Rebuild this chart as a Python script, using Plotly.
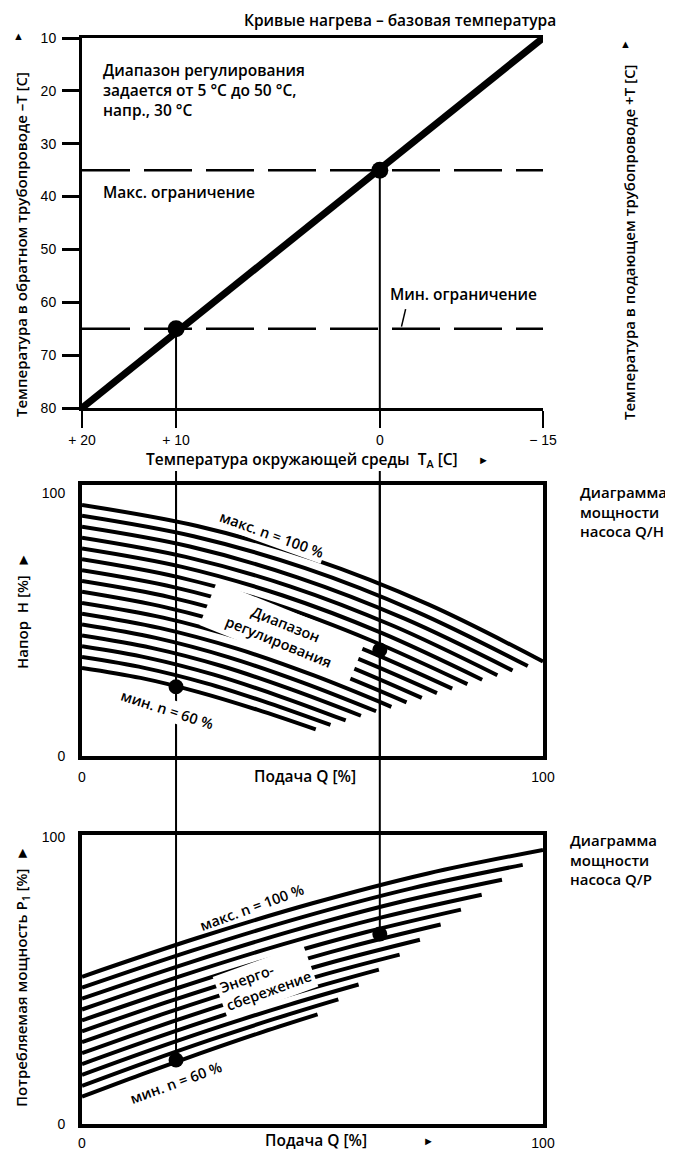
import plotly.graph_objects as go

# the page puts the plot 8 px in from the window corner
OFF = 8
W, H = 673 - OFF, 1151 - OFF

# ---------------- top panel: heating curve ----------------
ta_ticktext = ["+ 20", "+ 10", "0", "\u2212 15"]
ta_tickpos = [0, 20.4, 64.6, 100]      # ambient temperatures sit on the common Q scale
heat_q = [0, 100]
heat_ret = [80, 10]                    # return temperature -T at +20 and -15
ret_ticks = [10, 20, 30, 40, 50, 60, 70, 80]
sup_ticks = [20, 30, 40, 50, 60, 70, 80, 90]
limit_max = 35                         # return side (supply 65)
limit_min = 65                         # return side (supply 35)

# operating points (+10 and 0 ambient)
op_q = [20.4, 64.6]
op_ret = [65, 35]
op_h = [26.3, 40.3]
op_p = [22.3, 66.2]

# ---------------- Q/H pump curves, n = 100 % ... 60 % ----------------
qh_q = [
    [0, 25, 50, 75, 100],
    [0, 24.2, 48.4, 72.5, 96.7],
    [0, 23.4, 46.7, 70.1, 93.4],
    [0, 22.5, 45.1, 67.6, 90.1],
    [0, 21.7, 43.4, 65.1, 86.8],
    [0, 20.9, 41.8, 62.7, 83.6],
    [0, 20.1, 40.1, 60.2, 80.3],
    [0, 19.2, 38.5, 57.7, 77.0],
    [0, 18.4, 36.8, 55.3, 73.7],
    [0, 17.6, 35.2, 52.8, 70.4],
    [0, 16.8, 33.6, 50.3, 67.1],
    [0, 16.0, 31.9, 47.9, 63.8],
    [0, 15.1, 30.3, 45.4, 60.5],
    [0, 14.3, 28.6, 42.9, 57.2],
    [0, 13.5, 27.0, 40.5, 53.9],
    [0, 12.7, 25.3, 38.0, 50.7],
]
qh_h = [
    [95.4, 87.4, 74.9, 57.7, 35.9],
    [91.3, 83.5, 71.4, 54.9, 34.2],
    [87.1, 79.6, 67.9, 52.1, 32.5],
    [83.0, 75.7, 64.5, 49.4, 30.7],
    [78.9, 71.9, 61.1, 46.7, 29.0],
    [74.8, 68.0, 57.7, 43.9, 27.3],
    [70.6, 64.1, 54.3, 41.2, 25.6],
    [66.5, 60.3, 50.9, 38.5, 23.9],
    [62.4, 56.4, 47.5, 35.9, 22.1],
    [58.2, 52.6, 44.2, 33.2, 20.4],
    [54.1, 48.7, 40.8, 30.6, 18.7],
    [50.0, 44.9, 37.5, 27.9, 17.0],
    [45.8, 41.1, 34.2, 25.3, 15.3],
    [41.7, 37.3, 30.9, 22.7, 13.5],
    [37.6, 33.5, 27.6, 20.1, 11.8],
    [33.5, 29.7, 24.3, 17.6, 10.1],
]

# ---------------- Q/P pump curves ----------------
qp_q = [
    [0, 25, 50, 75, 100],
    [0, 23.9, 47.8, 71.7, 95.6],
    [0, 22.8, 45.6, 68.3, 91.1],
    [0, 21.7, 43.3, 65.0, 86.7],
    [0, 20.6, 41.1, 61.7, 82.2],
    [0, 19.4, 38.9, 58.3, 77.8],
    [0, 18.3, 36.7, 55.0, 73.3],
    [0, 17.2, 34.4, 51.7, 68.9],
    [0, 16.1, 32.2, 48.3, 64.4],
    [0, 15.0, 30.0, 45.0, 60.0],
    [0, 13.9, 27.8, 41.7, 55.6],
    [0, 12.8, 25.6, 38.3, 51.1],
]
qp_p = [
    [51.3, 64.8, 76.9, 87.3, 95.5],
    [47.5, 60.4, 72.1, 82.2, 90.3],
    [43.7, 56.0, 67.3, 77.1, 85.1],
    [39.9, 51.7, 62.5, 72.0, 79.9],
    [36.1, 47.3, 57.7, 66.9, 74.7],
    [32.3, 43.0, 52.9, 61.8, 69.5],
    [28.5, 38.7, 48.2, 56.7, 64.2],
    [24.7, 34.4, 43.4, 51.7, 59.0],
    [20.9, 30.1, 38.7, 46.6, 53.8],
    [17.1, 25.8, 34.0, 41.6, 48.6],
    [13.3, 21.5, 29.3, 36.6, 43.4],
    [9.5, 17.2, 24.6, 31.6, 38.2],
]

LBL = "Open Sans, Noto Sans, sans-serif"
NUM = "Liberation Sans, Arial, sans-serif"


def px(x):
    return (x - OFF) / W


def py(y):
    return 1 - (y - OFF) / H


XD = [px(82), px(543)]
TOP = [py(408), py(38)]
MID = [py(756), py(485)]
BOT = [py(1124), py(835)]

fig = go.Figure()

# heating curve and limits
fig.add_trace(go.Scatter(x=heat_q, y=heat_ret, mode="lines",
                         line=dict(color="black", width=7), xaxis="x", yaxis="y"))
for lim in [limit_max, limit_min]:
    fig.add_trace(go.Scatter(x=[0, 100], y=[lim, lim], mode="lines",
                             line=dict(color="black", width=2.5, dash="48px,14px"),
                             xaxis="x", yaxis="y"))
for q, t in zip(op_q, op_ret):
    fig.add_trace(go.Scatter(x=[q, q], y=[t, 80], mode="lines",
                             line=dict(color="black", width=2), xaxis="x", yaxis="y"))
fig.add_trace(go.Scatter(x=op_q, y=op_ret, mode="markers",
                         marker=dict(color="black", size=17), xaxis="x", yaxis="y"))

# Q/H
for qs, hs in zip(qh_q, qh_h):
    fig.add_trace(go.Scatter(x=qs, y=hs, mode="lines",
                             line=dict(color="black", width=4, shape="spline", smoothing=1),
                             xaxis="x2", yaxis="y5"))
for q in op_q:
    fig.add_trace(go.Scatter(x=[q, q], y=[0, 103], mode="lines",
                             line=dict(color="black", width=2), xaxis="x2", yaxis="y5"))
fig.add_trace(go.Scatter(x=op_q, y=op_h, mode="markers",
                         marker=dict(color="black", size=15), xaxis="x2", yaxis="y5"))

# Q/P
for qs, ps in zip(qp_q, qp_p):
    fig.add_trace(go.Scatter(x=qs, y=ps, mode="lines",
                             line=dict(color="black", width=4, shape="spline", smoothing=1),
                             xaxis="x3", yaxis="y6"))
for q, p in zip(op_q, op_p):
    fig.add_trace(go.Scatter(x=[q, q], y=[p, 101], mode="lines",
                             line=dict(color="black", width=2), xaxis="x3", yaxis="y6"))
fig.add_trace(go.Scatter(x=op_q, y=op_p, mode="markers",
                         marker=dict(color="black", size=15), xaxis="x3", yaxis="y6"))

# connecting verticals between the panels
shapes = []
for q in op_q:
    shapes.append(dict(type="line", xref="x", yref="paper", x0=q, x1=q,
                       y0=BOT[1], y1=py(471), line=dict(color="black", width=2)))
# leader for "Мин. ограничение"
shapes.append(dict(type="line", xref="x", yref="y", x0=70.2, x1=69.3, y0=61.3, y1=64.6,
                   line=dict(color="black", width=1.5)))

ann = []


def text(x, y, s, size=15, xref="paper", yref="paper", weight=600, **kw):
    kw.setdefault("xanchor", "center")
    kw.setdefault("yanchor", "middle")
    ann.append(dict(x=x, y=y, text=s, xref=xref, yref=yref, showarrow=False,
                    font=dict(family=LBL, size=size, color="black", weight=weight), **kw))


text(px(558), py(20), "Кривые нагрева – базовая температура", 15.5, xanchor="right")
text(px(21), py(245), "Температура в обратном трубопроводе –T [C]", 15, textangle=-90)
text(px(19), py(36), "▲", 11)
text(px(629), py(243), "Температура в подающем трубопроводе +T [C]", 15, textangle=-90)
text(px(625), py(43), "▲", 11)
text(4.1, 13.6, "Диапазон регулирования<br>задается от 5 °C до 50 °C,<br>напр., 30 °C", 15.5,
     xref="x", yref="y", xanchor="left", yanchor="top", align="left")
text(4.1, 39.2, "Макс. ограничение", 15.5, xref="x", yref="y", xanchor="left")
text(66.4, 58.5, "Мин. ограничение", 15.5, xref="x", yref="y", xanchor="left")
text(px(302), py(459), "Температура окружающей среды  T<sub>A</sub> [C]", 15.5)
text(px(483), py(459), "►", 11)

# Q/H panel texts
text(px(578), py(480), "Диаграмма<br>мощности<br>насоса Q/H", 15,
     xanchor="left", yanchor="top", align="left")
text(px(305), py(776), "Подача Q [%]", 15.5)
text(px(22), py(611), "Напор  H [%]  ►", 15, textangle=-90)
text(41.2, 84.0, "макс. n = 100 %", 14.5, xref="x2", yref="y5", textangle=20, bgcolor="white")
text(43.4, 46.8, "\u00a0\u00a0\u00a0\u00a0\u00a0Диапазон\u00a0\u00a0\u00a0\u00a0\u00a0<br>"
     "\u00a0\u00a0\u00a0\u00a0\u00a0регулирования\u00a0\u00a0\u00a0\u00a0\u00a0", 14.5,
     xref="x2", yref="y5", textangle=22, bgcolor="white", borderpad=4)
text(18.4, 17.5, "мин. n = 60 %", 14.5, xref="x2", yref="y5", textangle=18, bgcolor="white")

# Q/P panel texts
text(px(568), py(828), "Диаграмма<br>мощности<br>насоса Q/P", 15,
     xanchor="left", yanchor="top", align="left")
text(px(316), py(1140), "Подача Q [%]", 15.5)
text(px(429), py(1140), "►", 11)
text(px(22), py(977), "Потребляемая мощность P<sub>1</sub> [%]  ►", 15, textangle=-90)
text(36.7, 75.6, "макс. n = 100 %", 14.5, xref="x3", yref="y6", textangle=-20)
text(39.7, 49.5, "Энерго-<br>сбережение", 14.5, xref="x3", yref="y6", textangle=-20,
     bgcolor="white", align="left", borderpad=3)
text(20.4, 14.3, "мин. n = 60 %", 14.5, xref="x3", yref="y6", textangle=-20)

numf = dict(family=NUM, size=14, color="black")
base = dict(showgrid=False, zeroline=False, linecolor="black", tickcolor="black",
            tickfont=numf, automargin=False)

fig.update_layout(
    width=W, height=H,
    margin=dict(l=0, r=0, t=0, b=0, pad=0, autoexpand=False),
    plot_bgcolor="white", paper_bgcolor="white", showlegend=False, hovermode=False,
    xaxis=dict(base, domain=XD, range=[0, 100], anchor="y", tickvals=ta_tickpos,
               ticktext=ta_ticktext, ticks="outside", ticklen=17, tickwidth=2,
               showline=True, linewidth=3, mirror=True, ticklabelstandoff=0),
    yaxis=dict(base, domain=TOP, range=[80, 10], anchor="x", tickvals=ret_ticks,
               ticks="outside", ticklen=17, tickwidth=3, showline=True, linewidth=3,
               ticklabelstandoff=3),
    yaxis2=dict(base, range=[20, 90], anchor="x", overlaying="y", side="right",
                tickvals=sup_ticks, ticks="outside", ticklen=15, tickwidth=3,
                showline=True, linewidth=3, ticklabelstandoff=15),
    yaxis3=dict(base, range=[80, 10], anchor="x", overlaying="y", side="left",
                tickvals=[limit_max, limit_min], ticks="", showline=False,
                ticklabelstandoff=20),
    yaxis4=dict(base, range=[20, 90], anchor="x", overlaying="y", side="right",
                tickvals=[100 - limit_max, 100 - limit_min], ticks="", showline=False,
                ticklabelstandoff=8),
    xaxis2=dict(base, domain=XD, range=[0, 100], anchor="y5", tickvals=[0, 100],
                ticks="", showline=True, linewidth=4, mirror=True, ticklabelstandoff=5),
    yaxis5=dict(base, domain=MID, range=[0, 103], anchor="x2", tickvals=[0, 100],
                ticks="", showline=True, linewidth=4, mirror=True, ticklabelstandoff=10),
    xaxis3=dict(base, domain=XD, range=[0, 100], anchor="y6", tickvals=[0, 100],
                ticks="", showline=True, linewidth=4, mirror=True, ticklabelstandoff=3),
    yaxis6=dict(base, domain=BOT, range=[0, 100.7], anchor="x3", tickvals=[0, 100],
                ticks="", showline=True, linewidth=4, mirror=True, ticklabelstandoff=10),
    shapes=shapes, annotations=ann,
)

fig.write_html("out.html")
